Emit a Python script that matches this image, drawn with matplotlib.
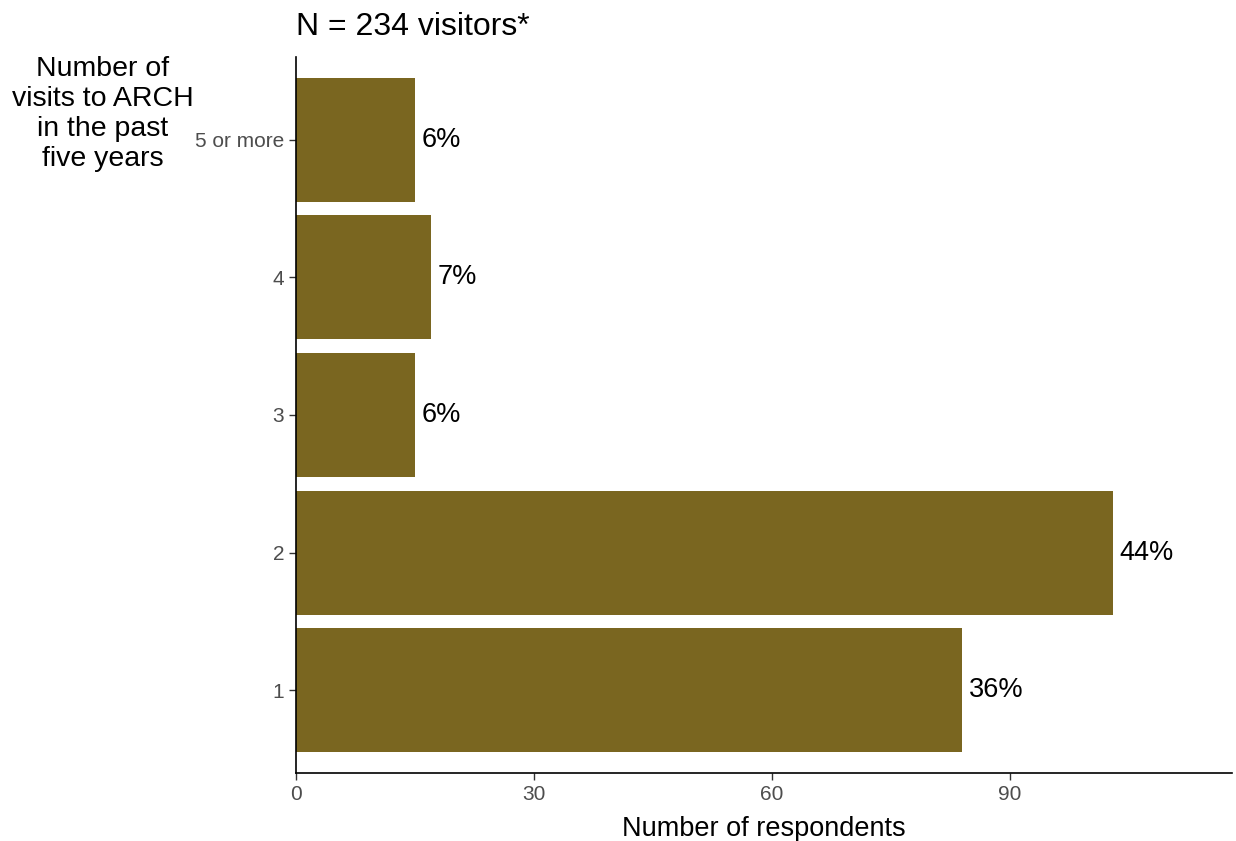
import matplotlib.pyplot as plt

plt.rcParams['font.family'] = ['Liberation Sans', 'DejaVu Sans']

# visits data
categories = ['1', '2', '3', '4', '5 or more']
counts = [84, 103, 15, 17, 15]
pct_labels = ['36%', '44%', '6%', '7%', '6%']
bar_color = '#7A6620'

fig = plt.figure(figsize=(12.36, 8.41), dpi=100)
ax = fig.add_axes([0.2395, 0.0809, 0.7573, 0.8513])

ypos = list(range(len(categories)))
ax.barh(ypos, counts, height=0.9, color=bar_color)
for y, c, lab in zip(ypos, counts, pct_labels):
    ax.text(c + 0.8, y, lab, va='center', ha='left', fontsize=19.5, color='black')

ax.set_ylim(-0.6, 4.6)
ax.set_xlim(0, 118)
ax.set_yticks(ypos)
ax.set_yticklabels(categories)
ax.set_xticks([0, 30, 60, 90])
ax.tick_params(axis='both', labelsize=15, labelcolor='#4D4D4D', color='#333333',
               length=5, width=1)
for s in ['top', 'right']:
    ax.spines[s].set_visible(False)
ax.spines['left'].set_linewidth(1.2)
ax.spines['bottom'].set_linewidth(1.2)

ax.set_xlabel('Number of respondents', fontsize=19.5, labelpad=9)
ax.set_title('N = 234 visitors*', fontsize=23, loc='left', pad=16)
fig.text(0.083, 0.864, 'Number of\nvisits to ARCH\nin the past\nfive years',
         ha='center', va='center', fontsize=20.5, linespacing=1.2)

fig.savefig('out.png', dpi=100)
